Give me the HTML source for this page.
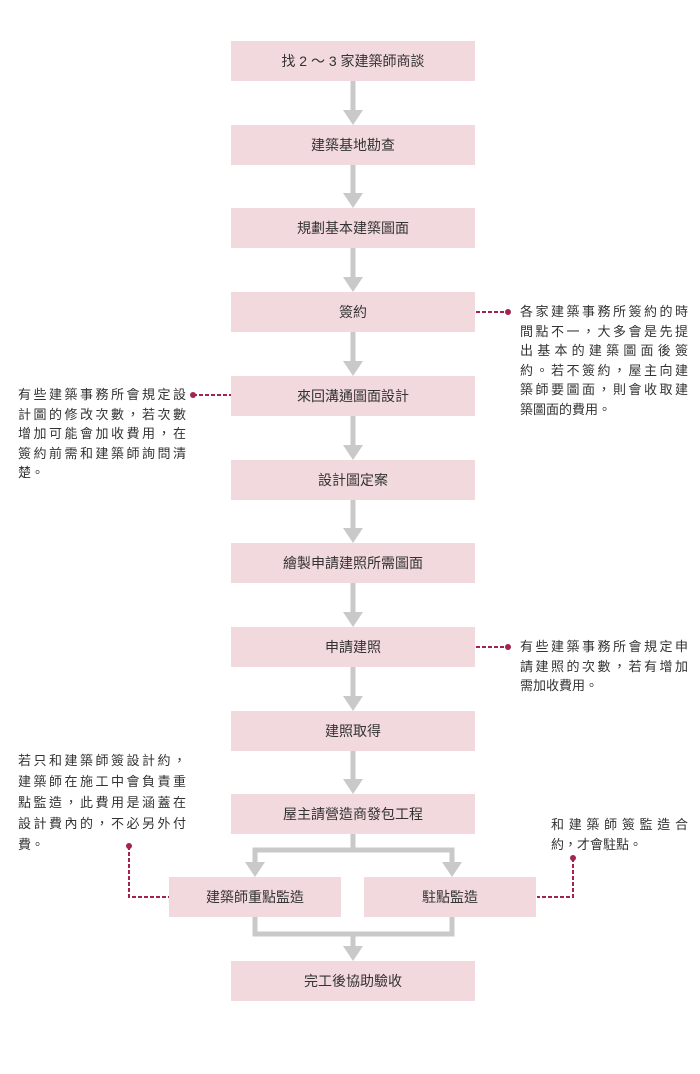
<!DOCTYPE html>
<html><head><meta charset="utf-8"><style>
body{margin:0;background:#fff;width:700px;height:1074px;position:relative;overflow:hidden;font-family:"Liberation Sans","Noto Sans CJK TC",sans-serif;color:#333}
.b{position:absolute;background:#f2d9dd;height:40px;line-height:40px;text-align:center;font-size:14px;color:#333}
.n{position:absolute;font-size:13px;color:#333}
.n div{text-align:justify;text-align-last:justify;white-space:nowrap}
.n div.l{text-align-last:left}
svg{position:absolute;left:0;top:0}
</style></head><body>
<svg width="700" height="1074">
<g stroke="#c9c9c9" stroke-width="5" fill="none">
<line x1="353" y1="81" x2="353" y2="112"/><line x1="353" y1="165" x2="353" y2="195"/><line x1="353" y1="248" x2="353" y2="279"/>
<line x1="353" y1="332" x2="353" y2="363"/><line x1="353" y1="416" x2="353" y2="447"/><line x1="353" y1="500" x2="353" y2="530"/>
<line x1="353" y1="583" x2="353" y2="614"/><line x1="353" y1="667" x2="353" y2="698"/><line x1="353" y1="751" x2="353" y2="781"/>
<polyline points="353,834 353,850"/><polyline points="255,865 255,850 452,850 452,865"/>
<polyline points="255,917 255,934 452,934 452,917"/><line x1="353" y1="934" x2="353" y2="948"/>
</g>
<g fill="#c9c9c9">
<polygon points="343,110 363,110 353,125"/><polygon points="343,193 363,193 353,208"/><polygon points="343,277 363,277 353,292"/>
<polygon points="343,361 363,361 353,376"/><polygon points="343,445 363,445 353,460"/><polygon points="343,528 363,528 353,543"/>
<polygon points="343,612 363,612 353,627"/><polygon points="343,696 363,696 353,711"/><polygon points="343,779 363,779 353,794"/>
<polygon points="245,862 265,862 255,877"/><polygon points="442,862 462,862 452,877"/><polygon points="343,946 363,946 353,961"/>
</g>
<g stroke="#a3254f" stroke-width="2" stroke-dasharray="4,2" fill="none">
<line x1="476" y1="312" x2="508" y2="312"/><line x1="193" y1="395" x2="231" y2="395"/><line x1="476" y1="647" x2="508" y2="647"/>
<polyline points="129,846 129,897 169,897"/><polyline points="573,858 573,897 537,897"/>
</g>
<g fill="#a3254f"><circle cx="508" cy="312" r="3"/><circle cx="193" cy="395" r="3"/><circle cx="508" cy="647" r="3"/><circle cx="129" cy="846" r="3"/><circle cx="573" cy="858" r="3"/></g>
</svg>
<div class="b" style="left:231px;top:41px;width:244px">找 2 ～ 3 家建築師商談</div>
<div class="b" style="left:231px;top:125px;width:244px">建築基地勘查</div>
<div class="b" style="left:231px;top:208px;width:244px">規劃基本建築圖面</div>
<div class="b" style="left:231px;top:292px;width:244px">簽約</div>
<div class="b" style="left:231px;top:376px;width:244px">來回溝通圖面設計</div>
<div class="b" style="left:231px;top:460px;width:244px">設計圖定案</div>
<div class="b" style="left:231px;top:543px;width:244px">繪製申請建照所需圖面</div>
<div class="b" style="left:231px;top:627px;width:244px">申請建照</div>
<div class="b" style="left:231px;top:711px;width:244px">建照取得</div>
<div class="b" style="left:231px;top:794px;width:244px">屋主請營造商發包工程</div>
<div class="b" style="left:169px;top:877px;width:172px">建築師重點監造</div>
<div class="b" style="left:364px;top:877px;width:172px">駐點監造</div>
<div class="b" style="left:231px;top:961px;width:244px">完工後協助驗收</div>
<div class="n" style="left:520px;top:302px;width:168px;line-height:19.5px"><div>各家建築事務所簽約的時</div><div>間點不一，大多會是先提</div><div>出基本的建築圖面後簽</div><div>約。若不簽約，屋主向建</div><div>築師要圖面，則會收取建</div><div class="l">築圖面的費用。</div></div>
<div class="n" style="left:18px;top:385px;width:168px;line-height:19.5px"><div>有些建築事務所會規定設</div><div>計圖的修改次數，若次數</div><div>增加可能會加收費用，在</div><div>簽約前需和建築師詢問清</div><div class="l">楚。</div></div>
<div class="n" style="left:520px;top:637px;width:168px;line-height:19.5px"><div>有些建築事務所會規定申</div><div>請建照的次數，若有增加</div><div class="l">需加收費用。</div></div>
<div class="n" style="left:18px;top:750px;width:168px;line-height:21px"><div>若只和建築師簽設計約，</div><div>建築師在施工中會負責重</div><div>點監造，此費用是涵蓋在</div><div>設計費內的，不必另外付</div><div class="l">費。</div></div>
<div class="n" style="left:551px;top:815px;width:137px;line-height:20px"><div>和建築師簽監造合</div><div class="l">約，才會駐點。</div></div>
</body></html>
